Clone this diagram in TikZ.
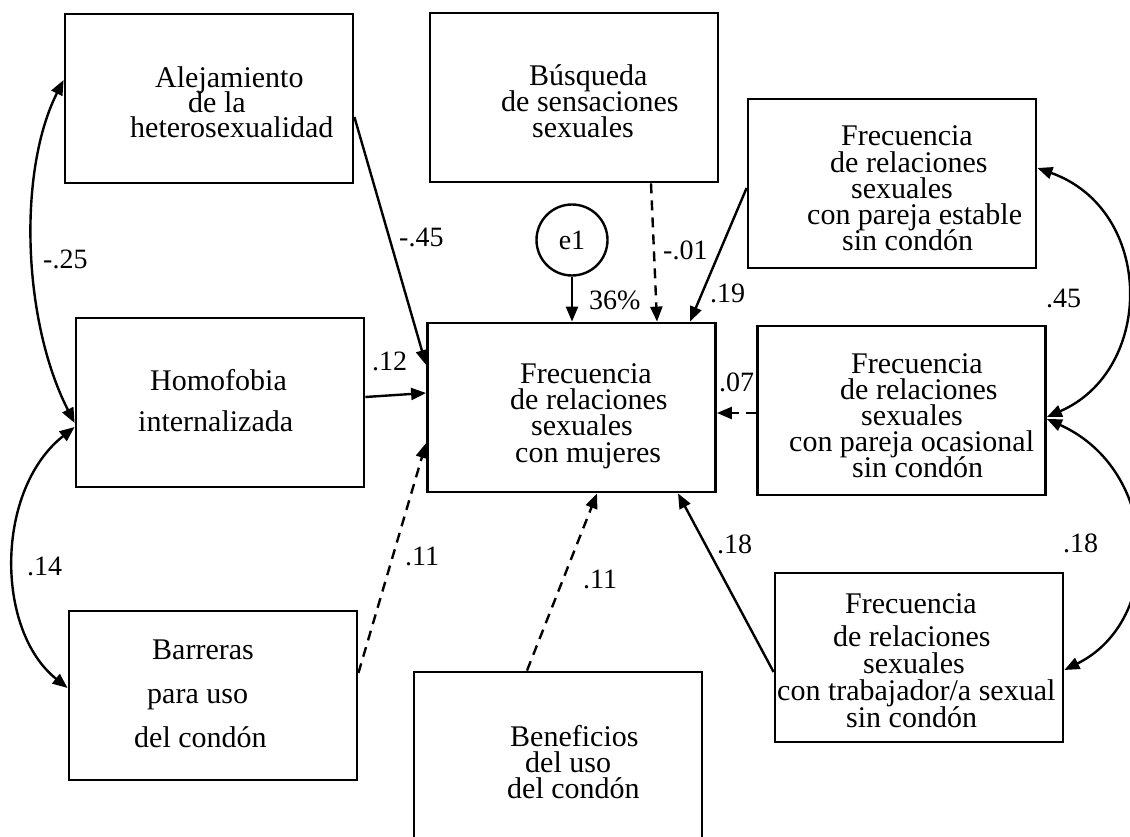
\documentclass[tikz,border=0pt]{standalone}
\usepackage{fontspec}
\setmainfont{Liberation Serif}
\usetikzlibrary{arrows.meta}
\begin{document}
\lineskiplimit=-100pt
\begin{tikzpicture}[x=1pt,y=-1pt,
  box/.style={draw, line width=2.8pt, minimum width=288pt, minimum height=169pt, inner sep=0pt},
  txt/.style={anchor=base west, align=left, inner sep=0pt, font=\fontsize{30}{#1}\selectfont},
  lbl/.style={anchor=base west, inner sep=0pt, font=\fontsize{28}{30}\selectfont},
  conn/.style={line width=2.4pt, -{Triangle[length=15pt,width=12pt]}},
  dconn/.style={conn, dash pattern=on 10pt off 7pt},
  cov/.style={line width=2.4pt, {Triangle[length=15pt,width=12pt]}-{Triangle[length=15pt,width=12pt]}}
]
\useasboundingbox (0,0) rectangle (1130,837);
% boxes
\node[box] (alej) at (209,98.5) {};
\node[box] (homo) at (220,402.5) {};
\node[box] (barr) at (213,695.5) {};
\node[box] (busq) at (574,97.5) {};
\node[box] (cent) at (571.5,407.5) {};
\node[box] (est) at (892,183.5) {};
\node[box] (ocas) at (901.5,410.5) {};
\node[box] (trab) at (919,657.5) {};
\node[box] (bene) at (558,756.5) {};
\node[draw, circle, line width=2.4pt, minimum size=71pt, inner sep=0pt, font=\fontsize{28}{30}\selectfont] (e1) at (572,240) {e1};
% box texts (anchored at the baseline of the last line)
\node[txt=25] (alejT) at (130,138) {\hspace*{25pt}Alejamiento\\\hspace*{58pt}de la\\heterosexualidad};
\node[txt=41] (homoT) at (138,431) {\hspace*{12pt}Homofobia\\internalizada};
\node[txt=44] (barrT) at (134,747) {\hspace*{18pt}Barreras\\\hspace*{13pt}para uso\\del condón};
\node[txt=26] (busqT) at (501,138) {\hspace*{28pt}Búsqueda\\de sensaciones\\\hspace*{31pt}sexuales};
\node[txt=26.3] (centT) at (510,462) {\hspace*{10pt}Frecuencia\\de relaciones\\\hspace*{21pt}sexuales\\\hspace*{5pt}con mujeres};
\node[txt=26.25] (estT) at (807,251) {\hspace*{34pt}Frecuencia\\\hspace*{23pt}de relaciones\\\hspace*{44pt}sexuales\\con pareja estable\\\hspace*{35pt}sin condón};
\node[txt=26] (ocasT) at (789,477) {\hspace*{62pt}Frecuencia\\\hspace*{51pt}de relaciones\\\hspace*{72pt}sexuales\\con pareja ocasional\\\hspace*{63pt}sin condón};
\node[txt=27] (trabT) at (777,727) {\hspace*{68pt}Frecuencia\\[6pt]\hspace*{56pt}de relaciones\\\hspace*{86pt}sexuales\\con trabajador/a sexual\\\hspace*{69pt}sin condón};
\node[txt=26] (beneT) at (507,798) {\hspace*{3pt}Beneficios\\\hspace*{18pt}del uso\\del condón};
% paths
\draw[conn] ([yshift=-18.5pt]alej.east) -- ([yshift=42.5pt]cent.west);
\draw[conn] ([yshift=5.5pt]homo.east) -- ([yshift=14.5pt]cent.west);
\draw[dconn] ([yshift=22.5pt]barr.east) -- ([yshift=-35.5pt]cent.west);
\draw[dconn] ([xshift=-31pt]bene.north) -- ([xshift=25.5pt]cent.south);
\draw[conn] ([yshift=-14.5pt]trab.west) -- ([xshift=106.5pt]cent.south);
\draw[dconn] ([yshift=-2.5pt]ocas.west) -- ([yshift=-5.5pt]cent.east);
\draw[conn] ([yshift=-4.5pt]est.west) -- ([xshift=118.5pt]cent.north);
\draw[dconn] ([xshift=77pt]busq.south) -- ([xshift=85.5pt]cent.north);
\draw[conn] (e1.south) -- ([xshift=0.5pt]cent.north);
% covariances
\draw[cov] ([yshift=18.5pt]alej.west) .. controls (18,170) and (22,320) .. ([yshift=-20.5pt]homo.west);
\draw[cov] ([yshift=-24.5pt]homo.west) .. controls (-5,490) and (-5,630) .. ([yshift=7.5pt]barr.west);
\draw[cov] ([yshift=15.5pt]est.east) .. controls (1155,210) and (1155,370) .. ([yshift=-6.5pt]ocas.east);
\draw[cov] ([yshift=-8.5pt]ocas.east) .. controls (1160,470) and (1165,620) .. ([yshift=-12.5pt]trab.east);
% labels
\node[lbl] (l1) at (43,269) {-.25};
\node[lbl] (l2) at (27,575) {.14};
\node[lbl] (l3) at (399,247) {-.45};
\node[lbl] (l4) at (372,370) {.12};
\node[lbl] (l5) at (589,309) {36\%};
\node[lbl] (l6) at (663,260) {-.01};
\node[lbl] (l7) at (710,302) {.19};
\node[lbl] (l8) at (719,391) {.07};
\node[lbl] (l9) at (1046,307) {.45};
\node[lbl] (l10) at (1063,552) {.18};
\node[lbl] (l11) at (717,553) {.18};
\node[lbl] (l12) at (405,565) {.11};
\node[lbl] (l13) at (583,588) {.11};
\end{tikzpicture}
\end{document}
